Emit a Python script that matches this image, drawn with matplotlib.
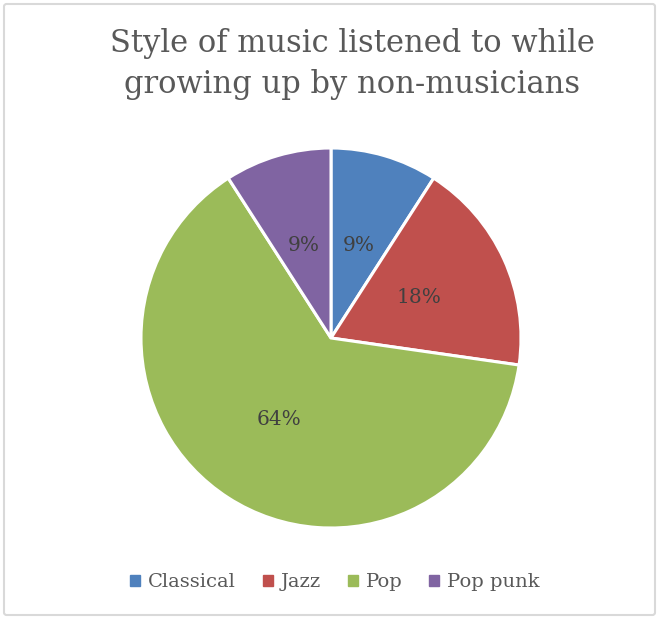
import matplotlib.pyplot as plt
from matplotlib.patches import FancyBboxPatch

# -----------------------------
# Data
# -----------------------------
TITLE = "Style of music listened to while\ngrowing up by non-musicians"
STYLES = ["Classical", "Jazz", "Pop", "Pop punk"]
COUNTS = [1, 2, 7, 1]
COLORS = ["#4F81BD", "#C0504D", "#9BBB59", "#8064A2"]

W, H = 659, 619
FONT = "DejaVu Serif"


def main():
    fig = plt.figure(figsize=(W / 100, H / 100), dpi=100)

    # chart border
    border = FancyBboxPatch((4 / W, 4 / H), 651 / W, 611 / H,
                            boxstyle="round,pad=0,rounding_size=0.004",
                            transform=fig.transFigure, facecolor="none",
                            edgecolor="#D9D9D9", linewidth=1.5, zorder=-1)
    fig.patches.append(border)

    # pie: center (331, 338), radius 190 px
    cx, cy, r = 331, 338, 190
    ax = fig.add_axes([(cx - r) / W, (H - cy - r) / H, 2 * r / W, 2 * r / H])
    wedges, _, autotexts = ax.pie(
        COUNTS, colors=COLORS, startangle=90, counterclock=False,
        autopct="%1.0f%%", pctdistance=0.51, radius=1,
        wedgeprops={"edgecolor": "white", "linewidth": 2.2},
        textprops={"fontsize": 14.5, "color": "#404040", "family": FONT},
    )
    ax.set_xlim(-1, 1)
    ax.set_ylim(-1, 1)
    ax.set_aspect("equal")
    ax.axis("off")

    # title sits a bit right of the pie centre, like the original
    fig.text(352 / W, 1 - 64 / H, TITLE, ha="center", va="center",
             fontsize=22, color="#595959", family=FONT, linespacing=1.45)

    handles = [plt.Rectangle((0, 0), 1, 1, color=c) for c in COLORS]
    fig.legend(handles, STYLES, loc="center", bbox_to_anchor=(335 / W, 1 - 582 / H),
               ncol=4, frameon=False, handlelength=0.5, handleheight=0.5,
               handletextpad=0.4, columnspacing=1.4,
               prop={"family": FONT, "size": 14}, labelcolor="#595959")

    fig.savefig("out.png", dpi=100)
    plt.close(fig)


if __name__ == "__main__":
    main()
